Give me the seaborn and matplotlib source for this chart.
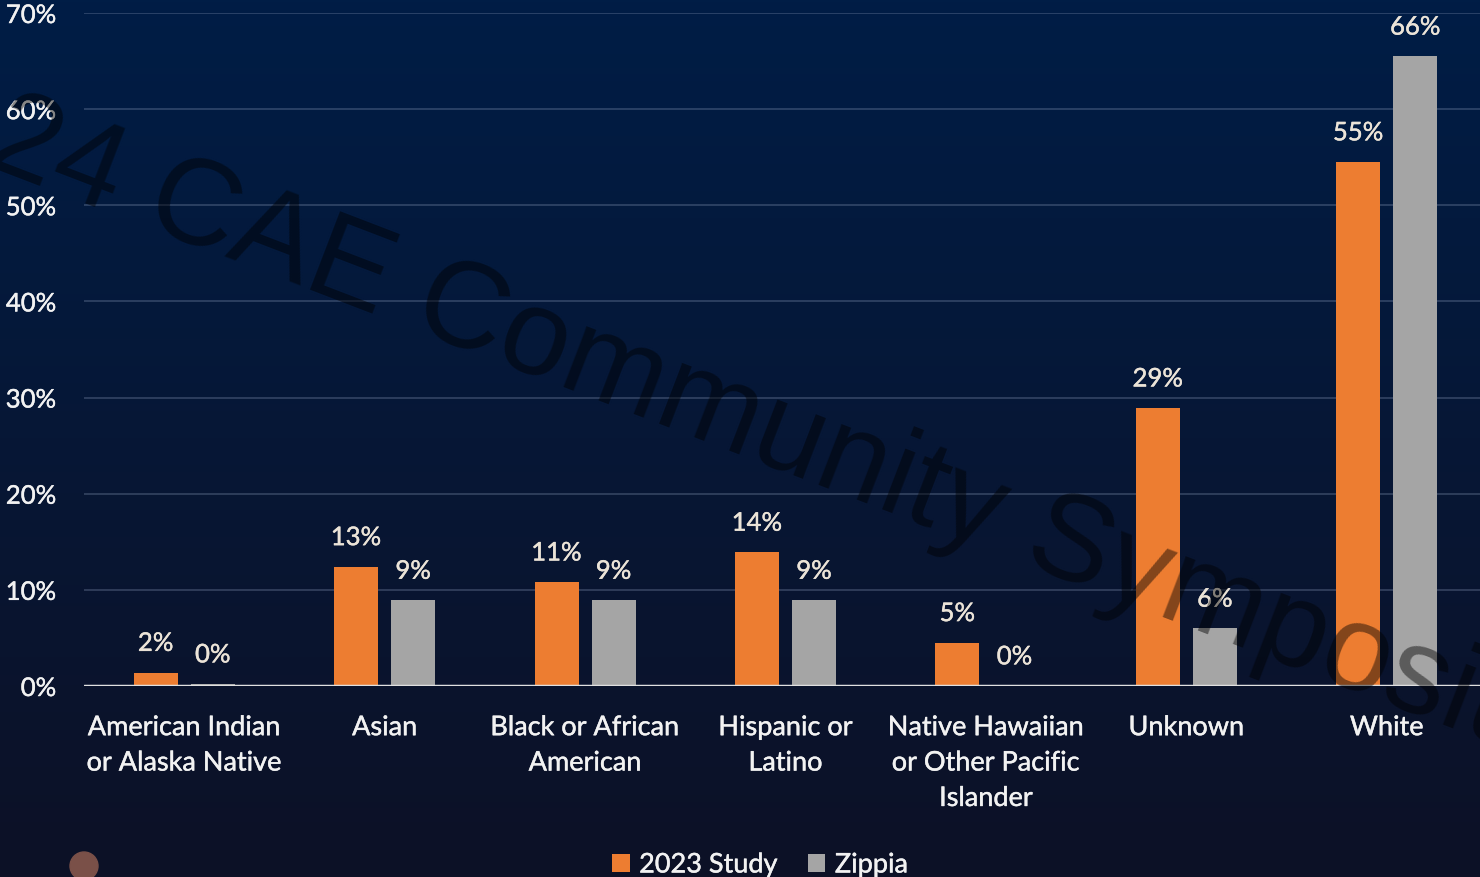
import numpy as np
import pandas as pd
import matplotlib
matplotlib.use("Agg")
import matplotlib.pyplot as plt
import matplotlib.patheffects as pe
import seaborn as sns
from matplotlib.patches import Circle, Patch

# ---------------- data ----------------
categories = ["American Indian\nor Alaska Native", "Asian", "Black or African\nAmerican",
              "Hispanic or\nLatino", "Native Hawaiian\nor Other Pacific\nIslander",
              "Unknown", "White"]
series = ["2023 Study", "Zippia"]
study_values = [1.4, 12.4, 10.8, 13.9, 4.5, 28.9, 54.5]
zippia_values = [0.2, 8.9, 8.9, 8.9, 0.0, 6.0, 65.5]
study_labels = ["2%", "13%", "11%", "14%", "5%", "29%", "55%"]
zippia_labels = ["0%", "9%", "9%", "9%", "0%", "6%", "66%"]
y_ticks = [0, 10, 20, 30, 40, 50, 60, 70]
y_tick_labels = ["0%", "10%", "20%", "30%", "40%", "50%", "60%", "70%"]
palette = {"2023 Study": "#ED7D31", "Zippia": "#A5A5A5"}
watermark = "2024 CAE Community Symposium"

df = pd.DataFrame({
    "category": categories * 2,
    "series": [series[0]] * len(categories) + [series[1]] * len(categories),
    "value": study_values + zippia_values,
})

sns.set_theme(style="white")
plt.rcParams['font.family'] = ['Lato', 'DejaVu Sans']

W, H = 1480, 878
fig = plt.figure(figsize=(W / 100, H / 100), dpi=100)

# background gradient
bg = fig.add_axes([0, 0, 1, 1], zorder=-10)
top = np.array([0x00, 0x1d, 0x46]) / 255
bot = np.array([0x0d, 0x11, 0x26]) / 255
t = np.linspace(0, 1, 256)[:, None]
grad = (top[None, :] * (1 - t) + bot[None, :] * t)[:, None, :]
bg.imshow(grad, aspect='auto', extent=[0, 1, 0, 1], origin='upper')
bg.set_axis_off()

ax = fig.add_axes([84 / W, (H - 687) / H, 1403 / W, (687 - 14) / H])
ax.set_facecolor('none')

sns.barplot(data=df, x="category", y="value", hue="series", order=categories,
            hue_order=series, palette=palette, width=0.57, gap=0.23,
            saturation=1, linewidth=0, ax=ax, legend=False, zorder=3)

ax.set_xlim(-0.5, len(categories) - 0.5)
ax.set_ylim(0, 70)
ax.set_yticks(y_ticks)
ax.set_yticklabels(y_tick_labels)
ax.set_xlabel("")
ax.set_ylabel("")
for s in ax.spines.values():
    s.set_visible(False)
ax.yaxis.grid(True, color='#8a9ab8', alpha=0.35, linewidth=1.2, zorder=0)
ax.set_axisbelow(True)
ax.axhline(0, color='#e0e0e0', linewidth=2.5, zorder=4)

thick = [pe.withStroke(linewidth=0.3, foreground='#f2f2f2')]
thick_lbl = [pe.withStroke(linewidth=0.3, foreground='#ece4d8')]

ax.tick_params(axis='y', length=0, pad=20, labelsize=18.5, labelcolor='#f2f2f2')
ax.tick_params(axis='x', length=0, pad=21, labelsize=19.5, labelcolor='#f2f2f2')
for lbl in ax.get_xticklabels():
    lbl.set_linespacing(1.52)
    lbl.set_path_effects(thick)
for lbl in ax.get_yticklabels():
    lbl.set_path_effects(thick)

for cont, labs in zip(ax.containers, [study_labels, zippia_labels]):
    txts = ax.bar_label(cont, labels=labs, padding=12, color='#ece4d8', fontsize=18.5)
    for tx in txts:
        tx.set_path_effects(thick_lbl)

handles = [Patch(facecolor=palette[s], edgecolor='none') for s in series]
leg = fig.legend(handles, series, loc='center', bbox_to_anchor=(760 / W, 1 - 866 / H),
                 ncol=2, frameon=False, fontsize=19.5, labelcolor='#f2f2f2',
                 handlelength=0.65, handleheight=0.65, columnspacing=1.1,
                 handletextpad=0.35)
for tx in leg.get_texts():
    tx.set_path_effects(thick)

fig.add_artist(Circle((0.84, (H - 867) / 100), 0.14, transform=fig.dpi_scale_trans,
                      color='#7a5048', zorder=50))

fig.text(-146 / W, 1 - 115 / H, watermark, rotation=-21, rotation_mode='anchor',
         ha='left', va='baseline', fontsize=88.5, family='Liberation Sans',
         color='black', alpha=0.45, zorder=100)

fig.savefig("out.png", dpi=100)
